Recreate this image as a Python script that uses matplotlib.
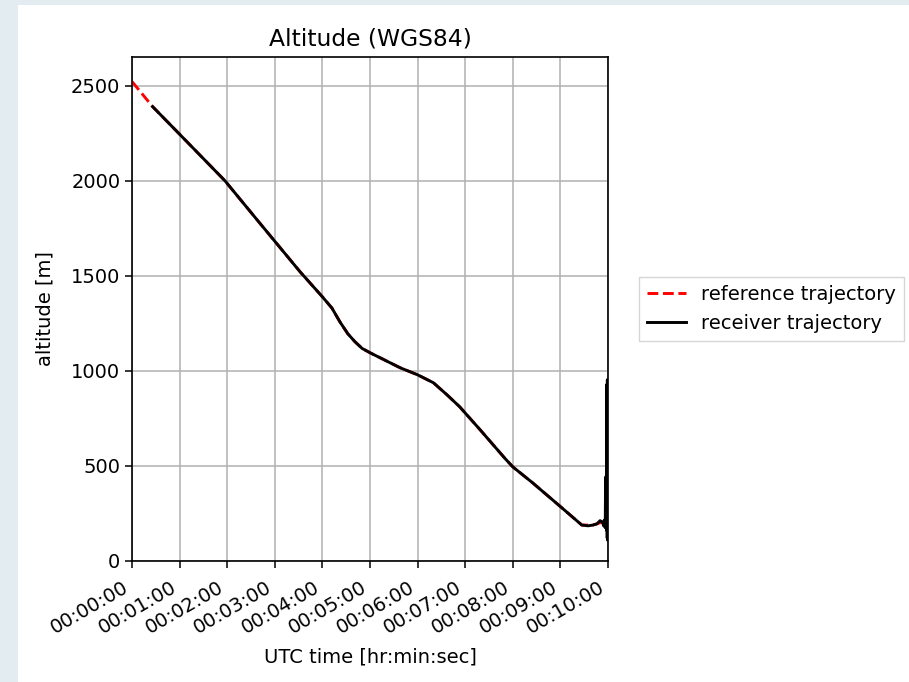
import matplotlib.pyplot as plt
from matplotlib.patches import Rectangle
from matplotlib.ticker import FuncFormatter, MultipleLocator

# Reference trajectory: time [s] and altitude [m]
ref_time = [0, 26, 60, 117, 160, 212, 240, 252, 262, 272, 281, 290, 300, 338,
            360, 380, 397, 413, 439, 455, 470, 480, 505, 542, 567, 581, 593]
ref_alt = [2521, 2389, 2244, 2000, 1782, 1520, 1389, 1330, 1258, 1195, 1153,
           1118, 1095, 1016, 979, 937, 874, 811, 689, 612, 540, 495, 411, 279,
           189, 189, 205]

# Receiver trajectory: time [s] and altitude [m]
rcv_time = [26, 60, 117, 160, 212, 240, 252, 262, 272, 281, 290, 300, 338, 360,
            380, 397, 413, 439, 455, 470, 480, 505, 542, 567, 575, 581, 586,
            590, 593, 594.5, 595.5, 596.5, 597, 597.5, 598, 598.5, 598.8, 599,
            599.2, 599.4, 599.6, 599.8, 600]
rcv_alt = [2389, 2244, 2000, 1782, 1520, 1389, 1330, 1258, 1195, 1153, 1118,
           1095, 1016, 979, 937, 874, 811, 689, 612, 540, 495, 411, 279, 189,
           185, 189, 195, 212, 205, 185, 215, 175, 442, 190, 212, 160, 930,
           120, 953, 110, 940, 115, 190]


def hms(x, pos):
    s = int(round(x))
    return '%02d:%02d:%02d' % (s // 3600, (s % 3600) // 60, s % 60)


fig = plt.figure(figsize=(9.09, 6.82), dpi=100, facecolor='#e3ecf1')
# white plotting sheet, drawn beneath the axes
fig.patches.append(Rectangle((18 / 909, 0), 1, 677 / 682, transform=fig.transFigure,
                             facecolor='white', edgecolor='none', zorder=-10))

ax = fig.add_axes([132 / 909, 121 / 682, 476 / 909, 504 / 682])
ax.plot(ref_time, ref_alt, 'r--', lw=2.1, label='reference trajectory')
ax.plot(rcv_time, rcv_alt, 'k-', lw=2.1, label='receiver trajectory')

ax.set_xlim(0, 600)
ax.set_ylim(0, 2650)
ax.xaxis.set_major_locator(MultipleLocator(60))
ax.xaxis.set_major_formatter(FuncFormatter(hms))
ax.yaxis.set_major_locator(MultipleLocator(500))
ax.grid(True, color='#b0b0b0', lw=1.1)
ax.tick_params(labelsize=14, width=1.1, length=4.9)
ax.tick_params(axis='x', pad=7)
for sp in ax.spines.values():
    sp.set_linewidth(1.2)
for lbl in ax.get_xticklabels():
    lbl.set_rotation(30)
    lbl.set_ha('right')

ax.set_title('Altitude (WGS84)', fontsize=16.8, pad=8)
ax.set_xlabel('UTC time [hr:min:sec]', fontsize=14, labelpad=7)
ax.set_ylabel('altitude [m]', fontsize=14, labelpad=12)
ax.legend(loc='center left', bbox_to_anchor=(1.065, 0.5), borderaxespad=0,
          fontsize=14, fancybox=False, handlelength=2.0)

plt.savefig('out.png', dpi=100, facecolor=fig.get_facecolor())
